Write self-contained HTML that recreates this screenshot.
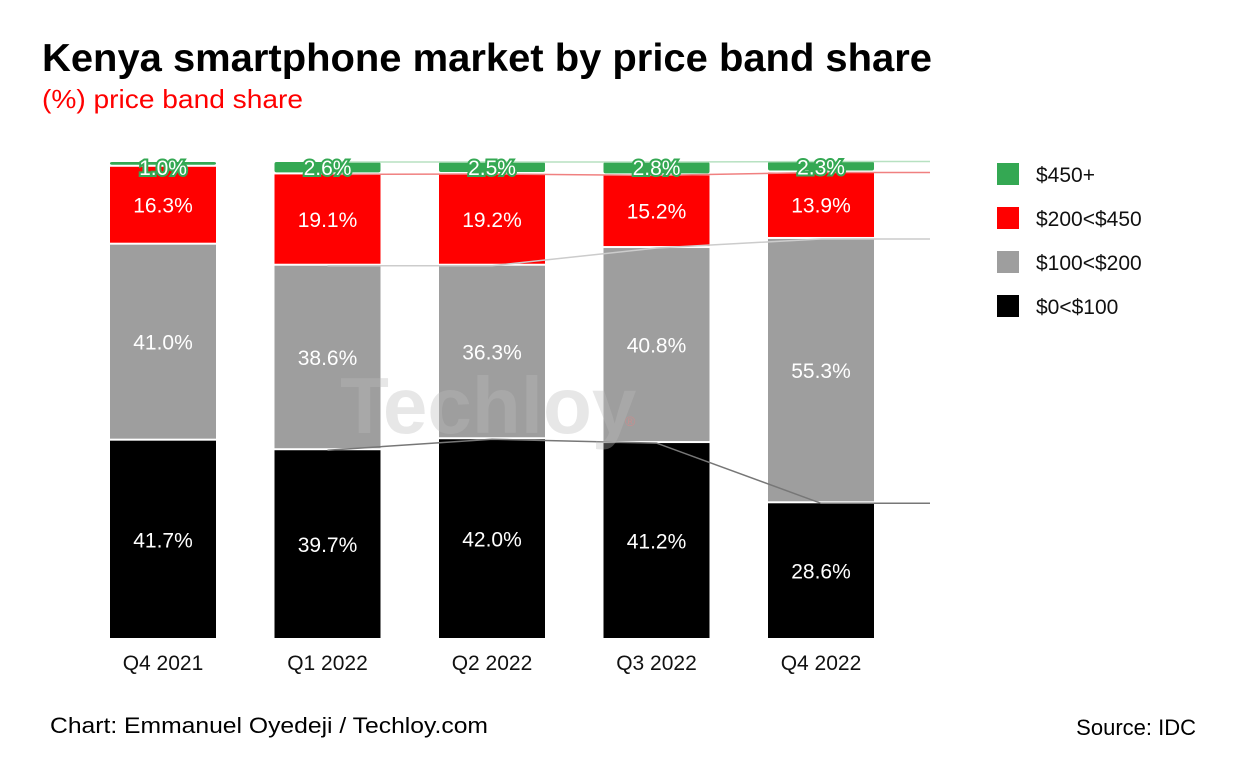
<!DOCTYPE html>
<html><head><meta charset="utf-8"><style>
body{margin:0;background:#fff;font-family:"Liberation Sans",Arial,sans-serif}
svg text{font-family:"Liberation Sans",Arial,sans-serif}
</style></head><body>
<svg width="1246" height="767" viewBox="0 0 1246 767">
<text x="42" y="71" font-size="39" font-weight="bold" fill="#000" textLength="890" lengthAdjust="spacingAndGlyphs">Kenya smartphone market by price band share</text>
<text x="42" y="108" font-size="26" fill="#ff0000" textLength="261" lengthAdjust="spacingAndGlyphs">(%) price band share</text>
<g id="bars"></g>
<g id="lines"></g>
<text x="340" y="433" font-size="80" font-weight="bold" fill="#bbb" fill-opacity="0.35">Techloy</text>
<text x="625" y="426" font-size="14" fill="#f08080" fill-opacity="0.5">®</text>
<g id="labels"></g>
<g id="legend"></g>
<text x="50" y="733" font-size="22" fill="#000" textLength="438" lengthAdjust="spacingAndGlyphs">Chart: Emmanuel Oyedeji / Techloy.com</text>
<text x="1196" y="735" font-size="22" fill="#000" text-anchor="end">Source: IDC</text>
</svg>
<script>
const categories=["Q4 2021","Q1 2022","Q2 2022","Q3 2022","Q4 2022"];
const band0to100=[41.7,39.7,42.0,41.2,28.6];
const band100to200=[41.0,38.6,36.3,40.8,55.3];
const band200to450=[16.3,19.1,19.2,15.2,13.9];
const band450plus=[1.0,2.6,2.5,2.8,2.3];
const seriesNames=["$0<$100","$100<$200","$200<$450","$450+"];
const colors=["#000000","#9e9e9e","#ff0000","#34a853"];
const NS="http://www.w3.org/2000/svg";
const baseY=640, pxPer=4.78, x0=110, step=164.5, bw=106;
const xAt=i=>x0+i*step;
const yAt=v=>baseY-v*pxPer;
function mk(tag,attrs,parent){const e=document.createElementNS(NS,tag);for(const k in attrs)e.setAttribute(k,attrs[k]);parent.appendChild(e);return e;}
const series=[band0to100,band100to200,band200to450,band450plus];
const bars=document.getElementById('bars'), lines=document.getElementById('lines'), labels=document.getElementById('labels'), legend=document.getElementById('legend');
const lineCols=["#777","#ccc","#f08080","#b7e1c1"];
for(let s=0;s<4;s++){
  let pts=[];
  for(let i=1;i<categories.length;i++){
    let c=0;for(let k=0;k<=s;k++)c+=series[k][i];
    pts.push((xAt(i)+bw/2)+","+yAt(c));
  }
  let c=0;for(let k=0;k<=s;k++)c+=series[k][4];
  pts.push("930,"+yAt(c));
  const p=mk('polyline',{points:pts.join(' '),fill:'none',stroke:lineCols[s],'stroke-width':1.5},lines);
  
  
}
for(let i=0;i<categories.length;i++){
  let cum=0;
  for(let s=0;s<4;s++){
    const v=series[s][i];
    const y1=yAt(cum), y2=yAt(cum+v);
    const r=mk('rect',{x:xAt(i),y:y2,width:bw,height:Math.max(0,y1-y2-2),fill:colors[s],rx:s==3?2:0},bars);
    
    
    const t=mk('text',{x:xAt(i)+bw/2,y:s==3?y2+13:(y1+y2)/2+7,'font-size':21,'text-anchor':'middle',fill:'#fff'},labels);
    if(s==3){t.setAttribute('stroke',colors[3]);t.setAttribute('stroke-width','4');t.setAttribute('paint-order','stroke');}
    t.textContent=v.toFixed(1)+"%";
    
    
    cum+=v;
  }
  const lt=mk('text',{x:xAt(i)+bw/2,y:670,'font-size':21,'text-anchor':'middle',fill:'#111'},labels);
  lt.textContent=categories[i];
  
  
}
for(let j=0;j<4;j++){
  const s=3-j, y=163+j*44;
  const r=mk('rect',{x:997,y:y,width:22,height:22,fill:colors[s]},legend);
  
  
  const t=mk('text',{x:1036,y:y+19,'font-size':21,fill:'#111'},legend);
  t.textContent=seriesNames[s];
  
  
}
</script>
</body></html>
